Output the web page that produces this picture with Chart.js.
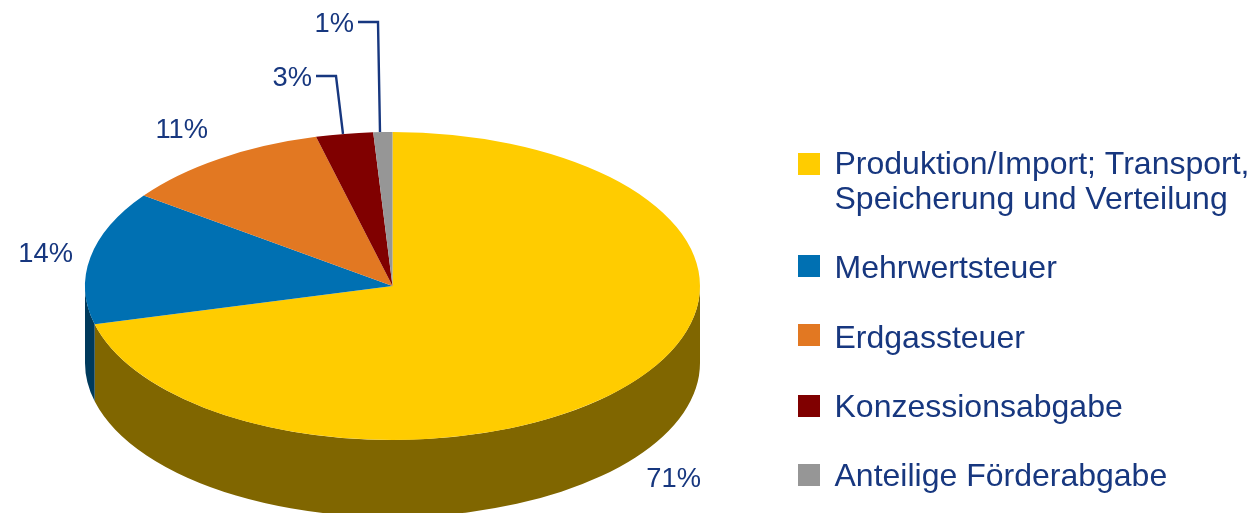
<!DOCTYPE html>
<html><head><meta charset="utf-8">
<style>html,body{margin:0;padding:0;background:#fff;overflow:hidden}canvas{display:block}</style>
<script src="https://cdn.jsdelivr.net/npm/chart.js@4/dist/chart.umd.min.js"></script>
</head><body>
<canvas id="c" width="1256" height="513"></canvas>
<script>
const categories = [["Produktion/Import; Transport,","Speicherung und Verteilung"],["Mehrwertsteuer"],["Erdgassteuer"],["Konzessionsabgabe"],["Anteilige Förderabgabe"]];
const shares = [71,14,11,3,1];
const topColors = ["#FFCC00","#0070B2","#E27822","#800000","#969696"];
const sideColors = ["#806600","#003A5C","#71390F","#400000","#4B4B4B"];

const TEXT = "#17377F", FONT = "Liberation Sans, Arial, sans-serif";
const STRETCH = 307.5/154, DEPTH = 77;
const labelPos = [[701,487],[73,262],[208,138],[312,86],[354,32]];
const leaders = [null,null,null,[[316,76],[336,76],[343,134]],[[358,22],[378,22],[380,132]]];
const legendSwatchY = [153,255,324,395,464];
const legendBaselines = [[174,209],[278],[348],[417],[486]];

const tilt = {
  id:"tilt",
  beforeDatasetDraw(chart,args){
    const ctx = chart.ctx, arcs = chart.getDatasetMeta(args.index).data;
    arcs.forEach((a,i)=>{
      const p = a.getProps(["x","y","startAngle","endAngle","outerRadius"],true);
      const from = Math.max(p.startAngle,0), to = Math.min(p.endAngle,Math.PI);
      const from2 = Math.max(p.startAngle,2*Math.PI), to2 = Math.min(p.endAngle,3*Math.PI);
      const rx = p.outerRadius*STRETCH, ry = p.outerRadius;
      [[from,to],[from2,to2]].forEach(([s,e])=>{
        if(e<=s) return;
        ctx.beginPath();
        ctx.ellipse(p.x,p.y,rx,ry,0,s,e);
        ctx.ellipse(p.x,p.y+DEPTH,rx,ry,0,e,s,true);
        ctx.closePath();
        ctx.fillStyle = sideColors[i];
        ctx.fill();
      });
    });
    const a0 = arcs[0];
    ctx.save();
    ctx.translate(a0.x,0);
    ctx.scale(STRETCH,1);
    ctx.translate(-a0.x,0);
  },
  afterDatasetDraw(chart){ chart.ctx.restore(); },
  afterDraw(chart){
    const ctx = chart.ctx;
    ctx.save();
    ctx.fillStyle = TEXT; ctx.strokeStyle = TEXT; ctx.lineWidth = 2.4;
    ctx.textBaseline = "alphabetic";
    ctx.font = "27.3px "+FONT; ctx.textAlign = "right";
    shares.forEach((v,i)=>{ ctx.fillText(v+"%",labelPos[i][0],labelPos[i][1]); });
    leaders.forEach(l=>{
      if(!l) return;
      ctx.beginPath();
      l.forEach((q,j)=> j?ctx.lineTo(q[0],q[1]):ctx.moveTo(q[0],q[1]));
      ctx.stroke();
    });
    ctx.textAlign = "left"; ctx.font = "32px "+FONT;
    categories.forEach((lines,i)=>{
      ctx.fillStyle = topColors[i];
      ctx.fillRect(798,legendSwatchY[i],22,22);
      ctx.fillStyle = TEXT;
      lines.forEach((t,j)=>ctx.fillText(t,834.5,legendBaselines[i][j]));
    });
    ctx.restore();
  }
};

new Chart(document.getElementById("c"),{
  type:"pie",
  data:{labels:categories.map(l=>l.join(" ")),datasets:[{data:shares,backgroundColor:topColors,borderWidth:0,hoverOffset:0,clip:false}]},
  options:{
    responsive:false,animation:false,devicePixelRatio:1,
    layout:{padding:{left:238.5,right:709.5,top:132,bottom:73}},
    plugins:{legend:{display:false},tooltip:{enabled:false}}
  },
  plugins:[tilt]
});
</script>
</body></html>
